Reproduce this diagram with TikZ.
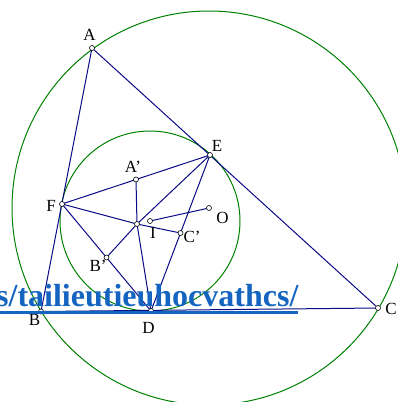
\documentclass[tikz,border=0pt]{standalone}
\usepackage{fontspec}
\setmainfont{Liberation Serif}
\definecolor{navy}{RGB}{10,10,135}
\definecolor{circgreen}{RGB}{0,128,0}
\definecolor{wmblue}{RGB}{21,101,192}

\begin{document}
\begin{tikzpicture}[
        x=1pt, y=-1pt,
        pt/.style={
            circle,
            draw,
            fill=white,
            inner sep=0pt,
            minimum size=5pt,
            line width=0.6pt
        },
        lbl/.style={
            font=\fontsize{17}{17}\selectfont,
            inner sep=0pt
        },
        seg/.style={
            draw=navy,
            line width=1pt
        },
        circ/.style={
            draw=circgreen,
            line width=1pt
        }
    ]

        \useasboundingbox (0,0) rectangle (398,402);
        \clip (0,0) rectangle (398,402);

        \coordinate (Aq) at (92,48);
        \coordinate (Bq) at (41,311.5);
        \coordinate (Cq) at (378,308);
        \coordinate (Dq) at (151,311);
        \coordinate (Eq) at (210,155);
        \coordinate (Fq) at (62,204);
        \coordinate (Gq) at (137,224);
        \coordinate (Iq) at (150,221);
        \coordinate (Oq) at (209,208);
        \coordinate (A1q) at (136,179.5);
        \coordinate (B1q) at (106.5,257.5);
        \coordinate (C1q) at (180.5,233);

        % circles
        \draw[circ] (Oq) circle (197);
        \draw[circ] (Iq) circle (90);

        % triangle ABC and DEF
        \draw[seg] (Aq) -- (Bq) -- (Cq) -- cycle;
        \draw[seg] (Dq) -- (Eq) -- (Fq) -- cycle;
        \draw[seg] (Gq) -- (A1q);
        \draw[seg] (Gq) -- (B1q);
        \draw[seg] (Gq) -- (C1q);
        \draw[seg] (Gq) -- (Dq);
        \draw[seg] (Gq) -- (Eq);
        \draw[seg] (Gq) -- (Fq);
        \draw[seg] (Iq) -- (Oq);

        % points
        \foreach \p in {Aq,Bq,Cq,Dq,Eq,Fq,Gq,Iq,Oq,A1q,B1q,C1q}
            \node[pt] (pt\p) at (\p) {};

        \node[lbl] (lblA) at (89.5,34.5) {A};
        \node[lbl] (lblB) at (34.5,320) {B};
        \node[lbl] (lblC) at (391,309) {C};
        \node[lbl] (lblD) at (148.5,327.5) {D};
        \node[lbl] (lblE) at (217,146) {E};
        \node[lbl] (lblF) at (51,206) {F};
        \node[lbl] (lblA1) at (133,166.5) {A'};
        \node[lbl] (lblB1) at (98,265.5) {B'};
        \node[lbl] (lblC1) at (192,236.5) {C'};
        \node[lbl] (lblO) at (222.5,217.5) {O};
        \node[lbl] (lblI) at (153,233) {I};

        % watermark
        \fill[wmblue] (0,310.7) rectangle (298,314.3);
        \node[anchor=base west, inner sep=0pt, text=wmblue,
              font=\fontsize{32}{32}\selectfont\bfseries] (mark) at (-4,306.5)
              {s/tailieutieuhocvathcs/};

    \end{tikzpicture}
\end{document}
